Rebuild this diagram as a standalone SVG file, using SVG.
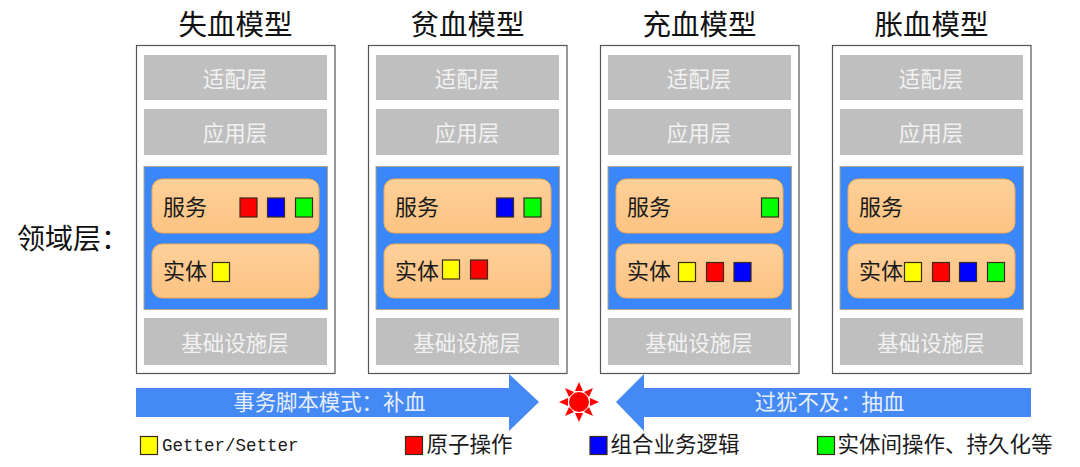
<svg xmlns="http://www.w3.org/2000/svg" width="1080" height="467" viewBox="0 0 1080 467">
<style>
text{font-family:"Noto Sans CJK SC","Noto Sans",sans-serif}
.t{font-size:28.500px;fill:#111;text-anchor:middle}
.f{fill:#fff;stroke:#555;stroke-width:1.2}
.g{fill:#bfbfbf}
.gt{font-size:21.500px;fill:#f2f2f2;text-anchor:middle}
.b{fill:#3a87fb;stroke:#b5a58a;stroke-width:1}
.o{fill:url(#og);stroke:#f0a94e;stroke-width:1}
.ot{font-size:22px;fill:#1a1a1a}
.s{stroke:#3a2a1a;stroke-width:1.2}
.y{fill:#ff0}.r{fill:#f00}.u{fill:#00f}.n{fill:#0f0}
.a{fill:#4589f5}
.at{font-size:21.400px;fill:#e6eefc;text-anchor:middle}
.l{font-size:21.500px;fill:#1a1a1a}
</style>
<defs>
<linearGradient id="og" x1="0" y1="0" x2="0" y2="1"><stop offset="0" stop-color="#fdd09a"/><stop offset="1" stop-color="#fdc382"/></linearGradient>
</defs>
<text x="17" y="249" font-size="28" fill="#111">领域层：</text>
<g id="model1">
<text class="t" x="235.500" y="35">失血模型</text>
<rect class="f" x="136.500" y="45.500" width="198.500" height="328"/>
<rect class="g" x="144" y="55" width="183" height="45"/><text class="gt" x="235" y="87">适配层</text>
<rect class="g" x="144" y="109" width="183" height="46"/><text class="gt" x="235" y="141">应用层</text>
<rect class="b" x="144" y="166.500" width="183.500" height="143"/>
<rect class="o" x="152" y="179" width="167" height="54" rx="10"/><text class="ot" x="163" y="215">服务</text>
<rect class="o" x="152" y="244" width="167" height="54" rx="10"/><text class="ot" x="163" y="279">实体</text>
<rect class="s r" x="240" y="198" width="17" height="19"/><rect class="s u" x="267.500" y="198" width="17" height="19"/><rect class="s n" x="295.500" y="198" width="17" height="19"/>
<rect class="s y" x="212.500" y="262.500" width="17" height="19"/>
<rect class="g" x="144" y="318" width="183" height="47"/><text class="gt" x="235" y="351">基础设施层</text>
</g>
<g id="model2">
<text class="t" x="467.500" y="35">贫血模型</text>
<rect class="f" x="368.500" y="45.500" width="198.500" height="328"/>
<rect class="g" x="376" y="55" width="183" height="45"/><text class="gt" x="467" y="87">适配层</text>
<rect class="g" x="376" y="109" width="183" height="46"/><text class="gt" x="467" y="141">应用层</text>
<rect class="b" x="376" y="166.500" width="183.500" height="143"/>
<rect class="o" x="384" y="179" width="167" height="54" rx="10"/><text class="ot" x="395" y="215">服务</text>
<rect class="o" x="384" y="244" width="167" height="54" rx="10"/><text class="ot" x="395" y="279">实体</text>
<rect class="s u" x="496.500" y="198" width="17" height="19"/><rect class="s n" x="524" y="198" width="17" height="19"/>
<rect class="s y" x="442.500" y="260" width="17" height="19"/><rect class="s r" x="470.500" y="260" width="17" height="19"/>
<rect class="g" x="376" y="318" width="183" height="47"/><text class="gt" x="467" y="351">基础设施层</text>
</g>
<g id="model3">
<text class="t" x="699.500" y="35">充血模型</text>
<rect class="f" x="600.500" y="45.500" width="198.500" height="328"/>
<rect class="g" x="608" y="55" width="183" height="45"/><text class="gt" x="699" y="87">适配层</text>
<rect class="g" x="608" y="109" width="183" height="46"/><text class="gt" x="699" y="141">应用层</text>
<rect class="b" x="608" y="166.500" width="183.500" height="143"/>
<rect class="o" x="616" y="179" width="167" height="54" rx="10"/><text class="ot" x="627" y="215">服务</text>
<rect class="o" x="616" y="244" width="167" height="54" rx="10"/><text class="ot" x="627" y="279">实体</text>
<rect class="s n" x="761.500" y="198" width="17" height="19"/>
<rect class="s y" x="678.500" y="262.500" width="17" height="19"/><rect class="s r" x="706.500" y="262.500" width="17" height="19"/><rect class="s u" x="734" y="262.500" width="17" height="19"/>
<rect class="g" x="608" y="318" width="183" height="47"/><text class="gt" x="699" y="351">基础设施层</text>
</g>
<g id="model4">
<text class="t" x="931.500" y="35">胀血模型</text>
<rect class="f" x="832.500" y="45.500" width="198.500" height="328"/>
<rect class="g" x="840" y="55" width="183" height="45"/><text class="gt" x="931" y="87">适配层</text>
<rect class="g" x="840" y="109" width="183" height="46"/><text class="gt" x="931" y="141">应用层</text>
<rect class="b" x="840" y="166.500" width="183.500" height="143"/>
<rect class="o" x="848" y="179" width="167" height="54" rx="10"/><text class="ot" x="859" y="215">服务</text>
<rect class="o" x="848" y="244" width="167" height="54" rx="10"/><text class="ot" x="859" y="279">实体</text>
<rect class="s y" x="904.500" y="262.500" width="17" height="19"/><rect class="s r" x="932.500" y="262.500" width="17" height="19"/><rect class="s u" x="959.500" y="262.500" width="17" height="19"/><rect class="s n" x="987.500" y="262.500" width="17" height="19"/>
<rect class="g" x="840" y="318" width="183" height="47"/><text class="gt" x="931" y="351">基础设施层</text>
</g>
<g id="connectors">
<polygon class="a" points="136,388 509,388 509,374 539,402 509,431 509,417 136,417"/>
<polygon class="a" points="1031,388 644,388 644,374 616,402 644,431 644,417 1031,417"/>
</g>
<text class="at" x="329.500" y="410">事务脚本模式：补血</text>
<text class="at" x="829.500" y="410">过犹不及：抽血</text>
<g id="star" fill="#f00">
<circle cx="579" cy="402" r="10"/>
<polygon points="579,382 583,391 575,391"/><polygon points="579,422 583,413 575,413"/><polygon points="559,402 568,398 568,406"/><polygon points="599,402 590,398 590,406"/>
<polygon points="565,388 574,392 569,397"/><polygon points="593,388 589,397 584,392"/><polygon points="565,416 569,407 574,412"/><polygon points="593,416 584,412 589,407"/>
</g>
<g id="legend">
<rect class="s y" x="140.500" y="436.500" width="17" height="18"/><text x="162" y="451" font-size="17.500" fill="#1a1a1a" style="font-family:'Liberation Mono',monospace">Getter/Setter</text>
<rect class="s r" x="405.500" y="436.500" width="17" height="18"/><text class="l" x="426.500" y="452">原子操作</text>
<rect class="s u" x="590" y="436.500" width="17" height="18"/><text class="l" x="610.500" y="452">组合业务逻辑</text>
<rect class="s n" x="817.500" y="436.500" width="17" height="18"/><text class="l" x="837.500" y="452">实体间操作、持久化等</text>
</g>
</svg>
